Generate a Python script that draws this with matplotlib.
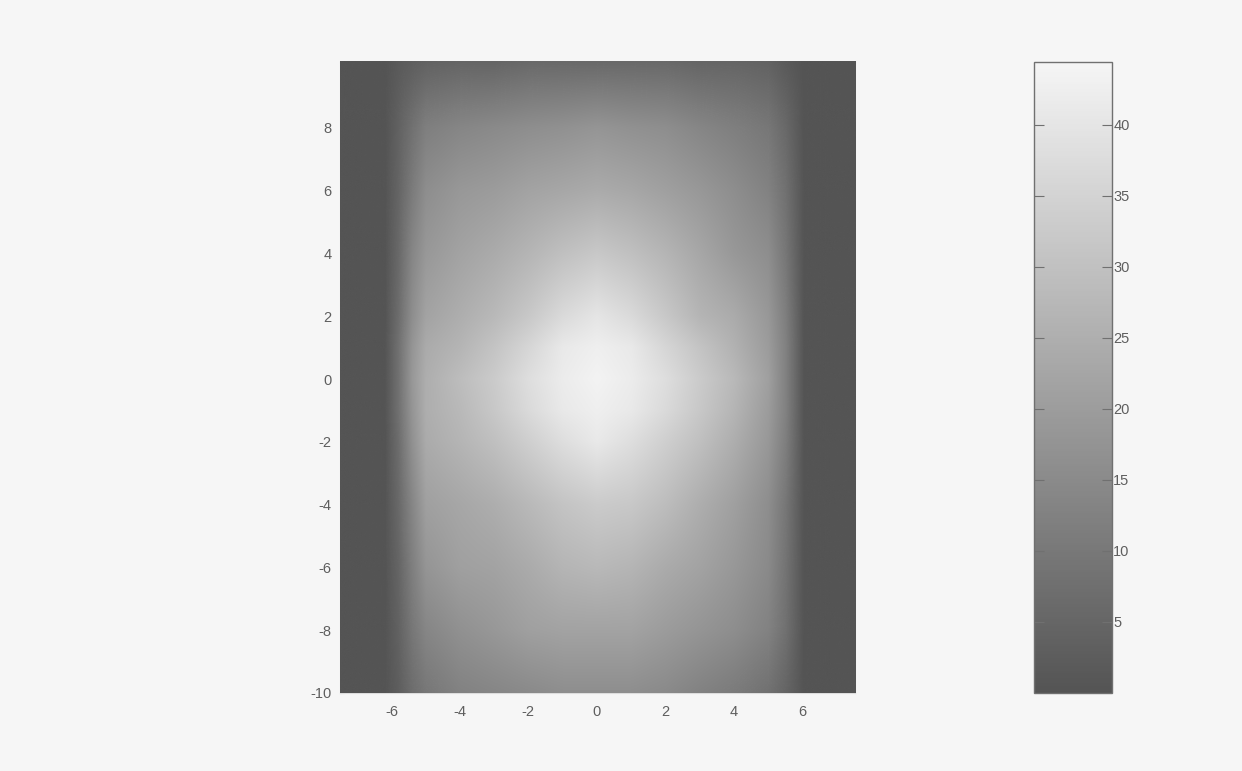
import matplotlib
matplotlib.use("Agg")
import matplotlib.pyplot as plt
import numpy as np
from matplotlib.colors import LinearSegmentedColormap
from matplotlib.image import NonUniformImage

# grid nodes
x_nodes = [-7.5, -6.2, -5.8, -5.4, -5, -4, -3, -2, -1, 0, 1, 2, 3, 4, 5, 5.5, 6.05, 7.55]
y_nodes = [-10, -8, -6, -4, -2, -1, 0, 1, 2, 4, 6, 8, 10.1]

# estimated values, one row per y node (bottom to top)
row_m10 = [0, 0, 3, 7, 10, 13, 14, 15, 16, 16, 16, 15, 13, 11, 8, 5, 0, 0]
row_m8 = [0, 0, 4, 10, 14, 17, 19, 21, 22, 22, 22, 20, 18, 16, 13, 8, 0, 0]
row_m6 = [0, 0, 5, 12, 18, 21, 22, 24, 27, 28, 27, 24, 22, 19, 15, 9, 0, 0]
row_m4 = [0, 0, 6, 14, 21, 23, 25, 28, 31, 33, 32, 29, 25, 21, 16, 10, 0, 0]
row_m2 = [0, 0, 7, 17, 24, 27, 30, 34, 38, 41, 38, 34, 30, 25, 19, 12, 0, 0]
row_m1 = [0, 0, 8, 18, 25, 28, 32, 37, 41, 43, 41, 37, 32, 27, 20, 13, 0, 0]
row_0 = [0, 0, 8, 19, 25, 29, 33, 38, 42, 44, 42, 38, 33, 28, 21, 13, 0, 0]
row_1 = [0, 0, 8, 18, 24, 27, 31, 36, 41, 43, 41, 36, 31, 26, 20, 13, 0, 0]
row_2 = [0, 0, 7, 16, 22, 25, 28, 32, 37, 40, 37, 32, 27, 24, 19, 12, 0, 0]
row_4 = [0, 0, 6, 14, 19, 22, 24, 27, 30, 32, 30, 27, 23, 19, 16, 10, 0, 0]
row_6 = [0, 0, 5, 11, 16, 19, 20, 22, 23, 24, 23, 21, 19, 16, 13, 8, 0, 0]
row_8 = [0, 0, 4, 8, 12, 14, 15, 16, 17, 18, 17, 16, 14, 12, 10, 6, 0, 0]
row_10 = [0, 0, 2, 3, 4, 5, 5, 6, 6, 6, 6, 6, 5, 5, 4, 2, 0, 0]

x_ticks = [-6, -4, -2, 0, 2, 4, 6]
y_ticks = [-10, -8, -6, -4, -2, 0, 2, 4, 6, 8]
cbar_ticks = [5, 10, 15, 20, 25, 30, 35, 40]

Z = np.array([row_m10, row_m8, row_m6, row_m4, row_m2, row_m1, row_0,
              row_1, row_2, row_4, row_6, row_8, row_10], dtype=float)

cmap = LinearSegmentedColormap.from_list("grey", ["#545454", "#f5f5f5"])
bg = "#f6f6f6"
tick_col = "#5e5e5e"

plt.rcParams["font.family"] = ["Liberation Sans", "DejaVu Sans"]
plt.rcParams["axes.unicode_minus"] = False

fig = plt.figure(figsize=(12.42, 7.71), dpi=100, facecolor=bg)
ax = fig.add_axes([0.2738, 0.1012, 0.4147, 0.8184])
im = NonUniformImage(ax, interpolation="bilinear", cmap=cmap,
                     extent=(x_nodes[0], x_nodes[-1], y_nodes[0], y_nodes[-1]))
im.set_data(np.array(x_nodes), np.array(y_nodes), Z)
im.set_clim(0, 44.4)
im.set_zorder(3)
ax.add_image(im)
ax.set_xlim(-7.5, 7.55)
ax.set_ylim(-10, 10.1)
ax.set_xticks(x_ticks)
ax.set_yticks(y_ticks)
ax.tick_params(direction="in", length=3, colors="#cccccc",
               labelcolor=tick_col, labelsize=10.5)
ax.tick_params(axis="x", pad=9)
ax.tick_params(axis="y", pad=6)
for s in ax.spines.values():
    s.set_color("#dddddd")
    s.set_linewidth(0.8)

cax = fig.add_axes([0.8325, 0.1012, 0.0628, 0.8184])
cb = fig.colorbar(im, cax=cax, ticks=cbar_ticks)
cb.outline.set_edgecolor("#707070")
cb.outline.set_linewidth(1)
cax.tick_params(direction="in", length=7, left=True, right=True,
                colors="#707070", labelcolor=tick_col, labelsize=10.5, pad=1)

fig.savefig("out.png", dpi=100, facecolor=bg)
